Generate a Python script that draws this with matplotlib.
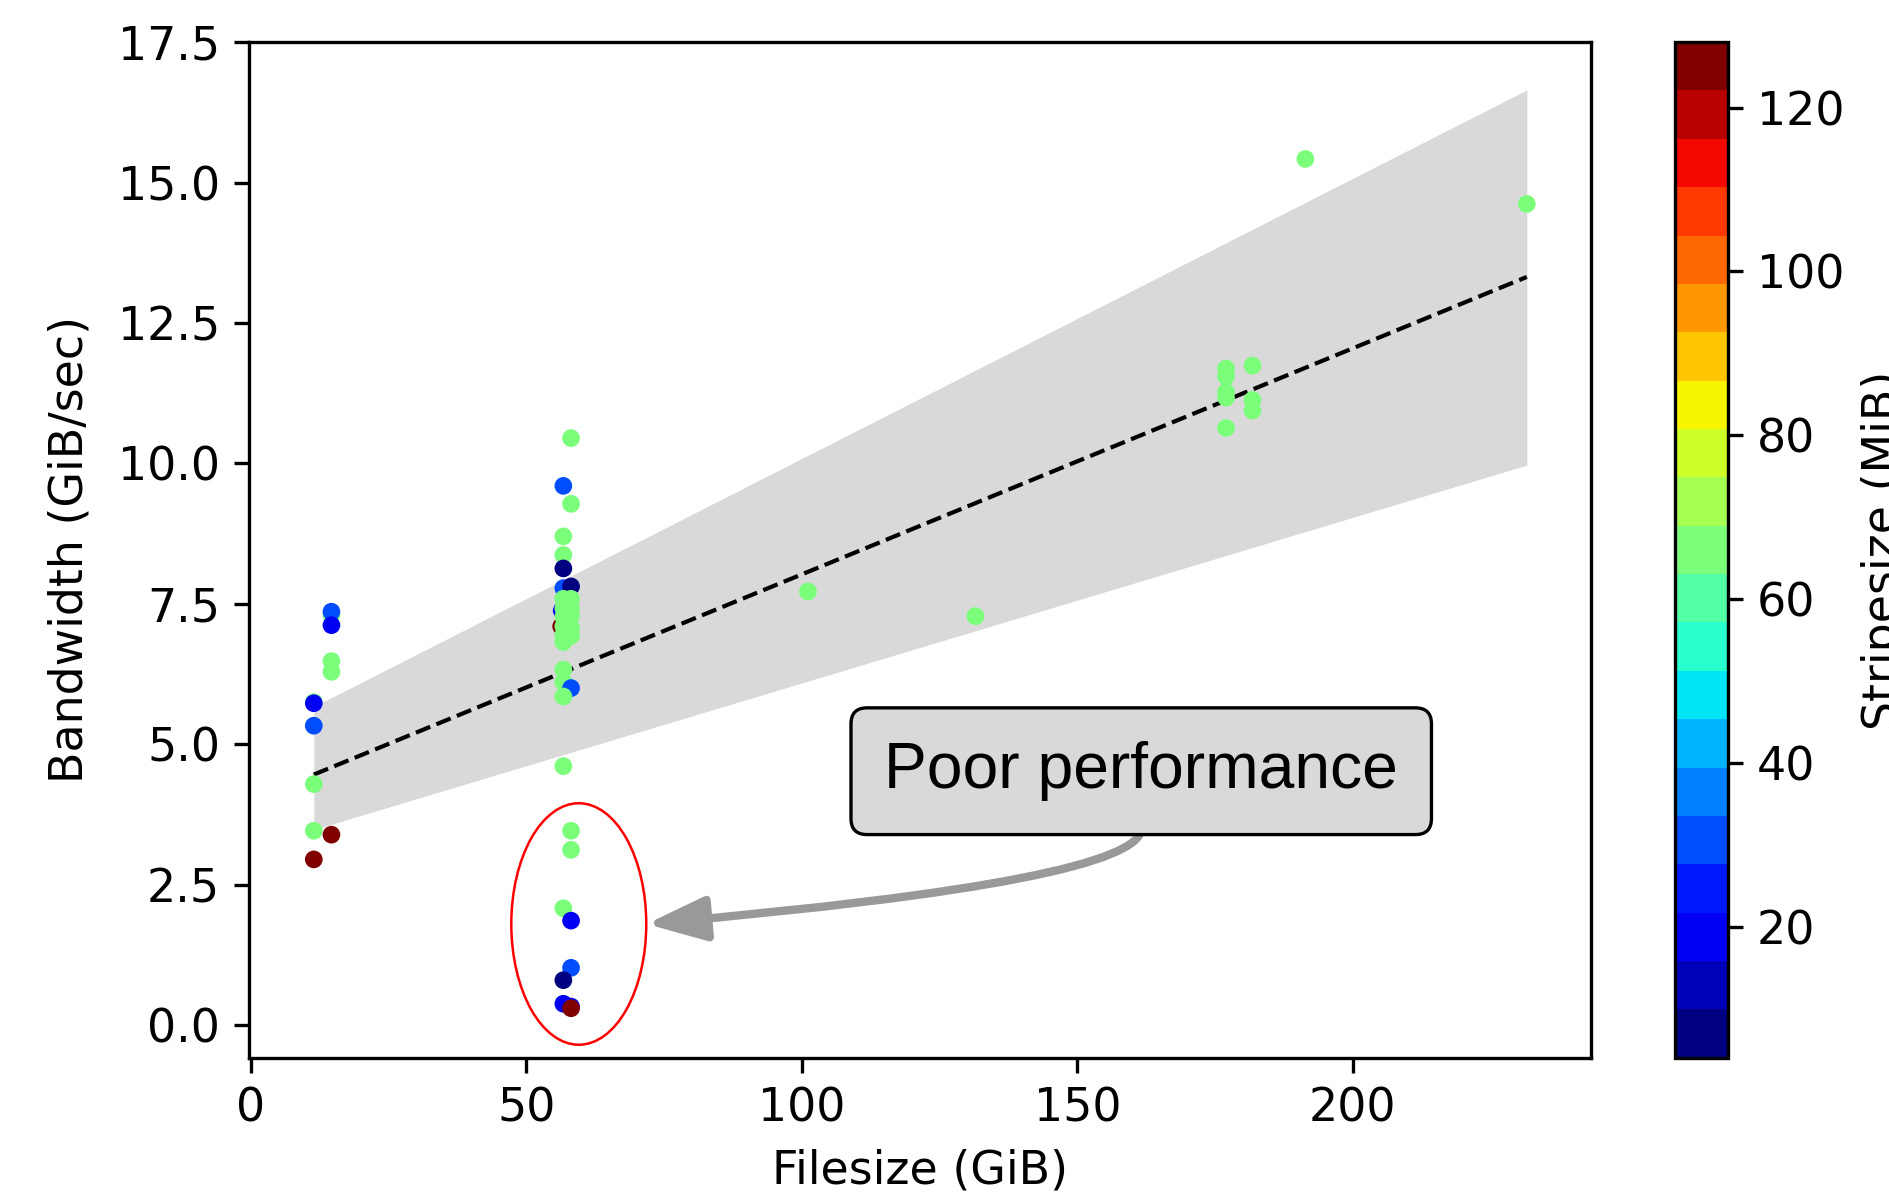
import numpy as np
import matplotlib
matplotlib.use("Agg")
import matplotlib.pyplot as plt
from matplotlib.patches import Ellipse

plt.rcParams["font.size"] = 11

# filesize (GiB), bandwidth (GiB/sec), stripesize (MiB)
filesize = [11.4, 11.4, 11.4, 11.4, 11.4, 11.4,
            14.6, 14.6, 14.6, 14.6, 14.6, 14.6,
            58.1, 56.7, 58.1, 56.7, 56.7, 56.7, 56.7, 58.1, 56.4, 56.3,
            56.7, 56.7, 56.7, 56.7, 56.7, 56.7,
            58.1, 58.1, 58.1, 58.1, 58.1,
            56.7, 56.7, 58.1, 56.7, 56.7,
            58.1, 58.1, 56.7, 58.1, 58.1, 56.7, 56.7, 58.1, 58.1,
            101.1, 131.5,
            177.0, 177.0, 177.0, 177.0, 177.0,
            181.8, 181.8, 181.8,
            191.4, 231.6]
bandwidth = [5.75, 5.73, 5.33, 4.29, 3.46, 2.95,
             7.30, 7.36, 7.12, 6.48, 6.29, 3.39,
             10.45, 9.60, 9.28, 8.70, 8.37, 8.13, 7.78, 7.81, 7.38, 7.10,
             7.59, 7.42, 7.27, 7.10, 6.95, 6.82,
             7.59, 7.42, 7.29, 7.08, 6.93,
             6.33, 6.11, 6.00, 5.85, 4.61,
             3.46, 3.12, 2.08, 1.86, 1.02, 0.80, 0.38, 0.33, 0.30,
             7.72, 7.28,
             11.69, 11.55, 11.27, 11.17, 10.63,
             11.74, 11.13, 10.94,
             15.42, 14.62]
stripesize = [64, 16, 32, 64, 64, 128,
              64, 32, 16, 64, 64, 128,
              64, 32, 64, 64, 64, 4, 32, 4, 16, 128,
              64, 64, 64, 64, 64, 64,
              64, 64, 64, 64, 64,
              64, 64, 32, 64, 64,
              64, 64, 64, 16, 32, 4, 16, 16, 128,
              64, 64,
              64, 64, 64, 64, 64,
              64, 64, 64,
              64, 64]

# fitted line and band edges
fit_x = [11.4, 231.6]
fit_y = [4.46, 13.32]
band_lo = [3.48, 9.97]
band_hi = [5.67, 16.65]

fig = plt.figure(figsize=(1889 / 300, 1197 / 300), dpi=300)
ax = fig.add_axes([0.1320, 0.1164, 0.7104, 0.8484])
cax = fig.add_axes([0.8865, 0.1164, 0.0281, 0.8484])

ax.fill_between(fit_x, band_lo, band_hi, color="#d9d9d9", lw=0, zorder=1)
ax.plot(fit_x, fit_y, "k--", lw=1, zorder=2)

cmap = plt.get_cmap("jet", 21)
sc = ax.scatter(filesize, bandwidth, c=stripesize, cmap=cmap, vmin=4, vmax=128,
                s=18, linewidths=0, zorder=3)

ell = Ellipse((59.5, 1.80), 24.5, 4.30, fill=False, ec="red", lw=0.6, zorder=4)
ax.add_patch(ell)

# text box and curved arrow leaving its bottom edge
ax.text(161.6, 4.52, "Poor performance", ha="center", va="center",
        fontsize=15.4, family="Liberation Sans", zorder=6,
        bbox=dict(boxstyle="round,pad=0.52,rounding_size=0.25", fc="#d9d9d9", ec="black", lw=0.8))
ax.annotate("", xy=(71.8, 1.80), xytext=(161.6, 3.50),
            arrowprops=dict(arrowstyle="-|>,head_length=0.4,head_width=0.15", mutation_scale=30,
                            color="#999999", lw=2, shrinkA=0, shrinkB=0,
                            connectionstyle="angle3,angleA=90,angleB=5"),
            zorder=5)

ax.set_xlim(-0.3, 243.3)
ax.set_ylim(-0.58, 17.5)
ax.set_yticks(np.arange(0, 17.6, 2.5))
ax.set_xlabel("Filesize (GiB)", labelpad=4)
ax.set_ylabel("Bandwidth (GiB/sec)", labelpad=6)

cb = fig.colorbar(sc, cax=cax)
cb.set_label("Stripesize (MiB)")

fig.savefig("out.png", dpi=300)
